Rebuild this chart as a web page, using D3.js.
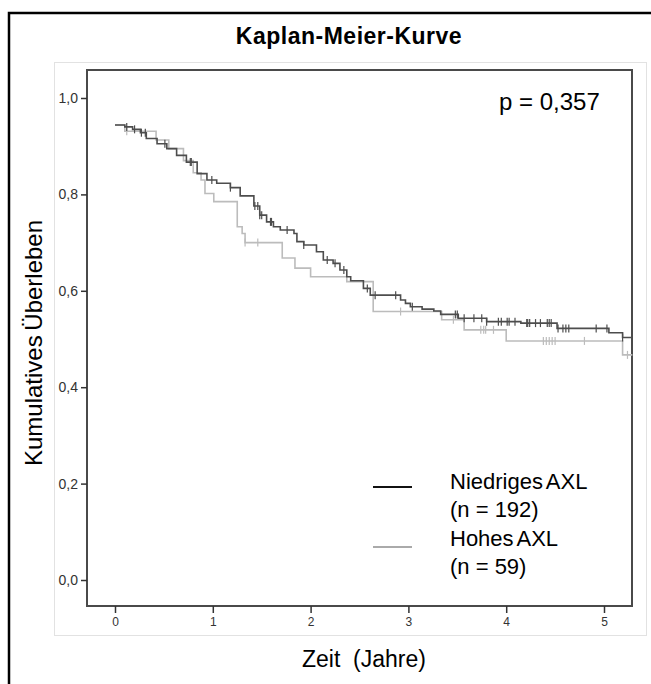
<!DOCTYPE html>
<html>
<head>
<meta charset="utf-8">
<script src="https://cdn.jsdelivr.net/npm/d3@7"></script>
<style>
  body { margin: 0; background: #fff; }
  text { font-family: "Liberation Sans", Arial, sans-serif; }
</style>
</head>
<body>
<div id="chart"></div>
<script>
// Kaplan-Meier data (time in years, cumulative survival)
var lowTimes = [0, 0.10, 0.18, 0.26, 0.32, 0.43, 0.53, 0.63, 0.73, 0.84, 0.94, 1.04, 1.18, 1.28, 1.42, 1.48, 1.55, 1.62, 1.69, 1.83, 1.86, 1.93, 2.06, 2.13, 2.23, 2.30, 2.37, 2.41, 2.54, 2.61, 2.92, 2.97, 3.02, 3.14, 3.26, 3.33, 3.51, 3.80, 4.15, 4.52, 5.05, 5.19];
var lowSurv  = [0.944, 0.940, 0.935, 0.928, 0.916, 0.905, 0.895, 0.881, 0.867, 0.843, 0.830, 0.823, 0.814, 0.797, 0.776, 0.757, 0.743, 0.733, 0.726, 0.719, 0.702, 0.695, 0.681, 0.664, 0.657, 0.643, 0.629, 0.621, 0.605, 0.591, 0.581, 0.574, 0.567, 0.562, 0.558, 0.551, 0.543, 0.536, 0.533, 0.522, 0.513, 0.503];
var lowCensored = [0.12, 0.20, 0.27, 0.31, 0.51, 0.77, 0.78, 0.99, 1.18, 1.43, 1.46, 1.48, 1.50, 1.59, 1.60, 1.76, 1.93, 2.17, 2.25, 2.34, 2.58, 2.66, 2.87, 3.04, 3.48, 3.50, 3.57, 3.67, 3.75, 3.80, 3.92, 3.95, 4.01, 4.03, 4.09, 4.21, 4.22, 4.24, 4.30, 4.35, 4.42, 4.44, 4.46, 4.53, 4.58, 4.61, 4.64, 4.92, 5.03, 5.19];

var highTimes = [0, 0.10, 0.42, 0.55, 0.70, 0.80, 0.88, 0.92, 1.01, 1.25, 1.30, 1.33, 1.71, 1.84, 2.00, 2.37, 2.64, 3.34, 3.57, 4.00, 5.19];
var highSurv  = [0.944, 0.931, 0.913, 0.895, 0.870, 0.845, 0.830, 0.802, 0.785, 0.733, 0.719, 0.700, 0.668, 0.647, 0.629, 0.619, 0.557, 0.540, 0.519, 0.496, 0.467];
var highCensored = [0.12, 1.33, 1.46, 2.92, 3.46, 3.74, 3.77, 3.79, 3.87, 4.38, 4.41, 4.44, 4.47, 4.50, 4.80, 5.24];

var lastTime = 5.29;
var xTicks = [0, 1, 2, 3, 4, 5];
var yTicks = [0, 0.2, 0.4, 0.6, 0.8, 1.0];
var groups = ["Niedriges AXL", "Hohes AXL"];
var groupN = [192, 59];
var pText = "p = 0,357";

var W = 651, H = 684;
var plot = { left: 87, right: 632, top: 70, bottom: 606 };

var svg = d3.select("#chart").append("svg")
    .attr("width", W)
    .attr("height", H);

// outer frame + light panel
svg.append("rect").attr("x", 9).attr("y", 13).attr("width", 700).attr("height", 700)
    .attr("fill", "none").attr("stroke", "#000").attr("stroke-width", 2.5);
svg.append("rect").attr("x", 54.5).attr("y", 62.5).attr("width", 592).attr("height", 573)
    .attr("fill", "none").attr("stroke", "#e2e2e2").attr("stroke-width", 1);

var x = d3.scaleLinear().domain([0, 5]).range([115, 604]);
var y = d3.scaleLinear().domain([0, 1]).range([580, 98]);

var de = d3.formatLocale({ decimal: ",", thousands: ".", grouping: [3], currency: ["", "€"] });
var fmt = de.format(".1f");

// plot box
svg.append("rect")
    .attr("x", plot.left).attr("y", plot.top)
    .attr("width", plot.right - plot.left).attr("height", plot.bottom - plot.top)
    .attr("fill", "none").attr("stroke", "#4a4a4a").attr("stroke-width", 2);

// y axis
var yAxis = svg.append("g")
    .attr("transform", "translate(" + plot.left + ",0)")
    .call(d3.axisLeft(y).tickValues(yTicks).tickFormat(fmt).tickSize(6).tickPadding(3));
yAxis.select(".domain").remove();
yAxis.selectAll("line").attr("stroke", "#333").attr("stroke-width", 1.5);
yAxis.selectAll("text").attr("fill", "#333").style("font-size", "14px");

// x axis
var xAxis = svg.append("g")
    .attr("transform", "translate(0," + plot.bottom + ")")
    .call(d3.axisBottom(x).tickValues(xTicks).tickFormat(d3.format("d")).tickSize(7).tickPadding(4));
xAxis.select(".domain").remove();
xAxis.selectAll("line").attr("stroke", "#333").attr("stroke-width", 1.5);
xAxis.selectAll("text").attr("fill", "#333").style("font-size", "12px");

// titles
svg.append("text").attr("x", 349).attr("y", 44).attr("text-anchor", "middle")
    .style("font-size", "23px").style("font-weight", "bold").style("letter-spacing", "0.5px")
    .text("Kaplan-Meier-Kurve");
svg.append("text").attr("x", 364).attr("y", 667).attr("text-anchor", "middle")
    .style("font-size", "23px").attr("xml:space", "preserve").text("Zeit  (Jahre)");
svg.append("text").attr("transform", "translate(42,343) rotate(-90)").attr("text-anchor", "middle")
    .style("font-size", "24px").style("word-spacing", "-2px").text("Kumulatives Überleben");
svg.append("text").attr("x", 499).attr("y", 110).style("font-size", "24px").text(pText);

// survival step curves
function stepData(times, surv) {
  var pts = times.map(function(t, i) { return [t, surv[i]]; });
  pts.push([lastTime, surv[surv.length - 1]]);
  return pts;
}
function survAt(times, surv, t) {
  var i = d3.bisectRight(times, t) - 1;
  return surv[Math.max(0, i)];
}

var line = d3.line()
    .x(function(d) { return x(d[0]); })
    .y(function(d) { return y(d[1]); })
    .curve(d3.curveStepAfter);

var series = [
  { times: highTimes, surv: highSurv, cens: highCensored, color: "#bcbcbc" },
  { times: lowTimes, surv: lowSurv, cens: lowCensored, color: "#4d4d4d" }
];

series.forEach(function(s) {
  svg.append("path")
      .datum(stepData(s.times, s.surv))
      .attr("d", line)
      .attr("fill", "none")
      .attr("stroke", s.color)
      .attr("stroke-width", 1.6);

  svg.selectAll(null)
      .data(s.cens)
      .enter().append("line")
      .attr("x1", function(d) { return x(d); })
      .attr("x2", function(d) { return x(d); })
      .attr("y1", function(d) { return y(survAt(s.times, s.surv, d)) - 4; })
      .attr("y2", function(d) { return y(survAt(s.times, s.surv, d)) + 4; })
      .attr("stroke", s.color)
      .attr("stroke-width", 1.2);
});

// legend
var legendColors = ["#111", "#aaa"];
var legendLineY = [487, 547];
var legendTextY = [489, 546];
groups.forEach(function(g, i) {
  svg.append("line")
      .attr("x1", 373).attr("x2", 412)
      .attr("y1", legendLineY[i]).attr("y2", legendLineY[i])
      .attr("stroke", legendColors[i]).attr("stroke-width", 2);
  svg.append("text").attr("x", 450).attr("y", legendTextY[i])
      .style("font-size", "22px").style("word-spacing", "-2px").text(g);
  svg.append("text").attr("x", 450).attr("y", legendTextY[i] + 28)
      .style("font-size", "22px").text("(n = " + groupN[i] + ")");
});
</script>
</body>
</html>
